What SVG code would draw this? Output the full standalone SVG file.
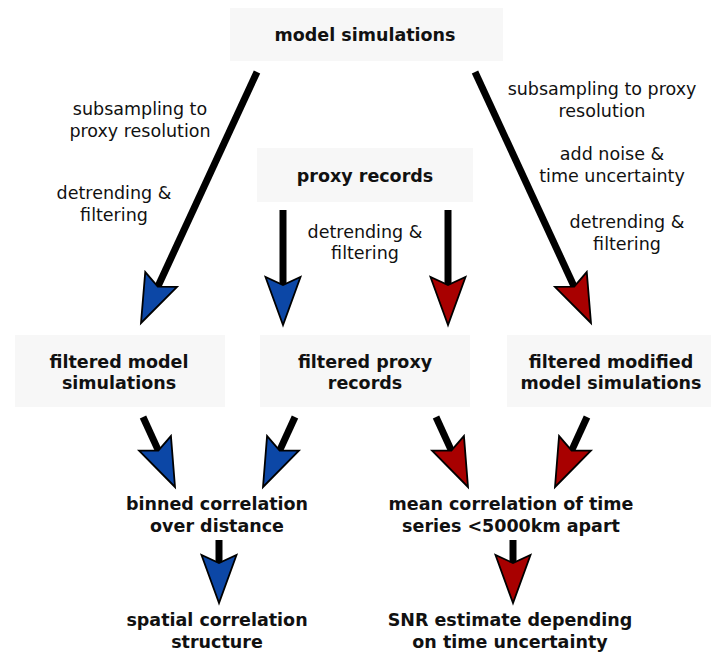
<svg xmlns="http://www.w3.org/2000/svg" xmlns:xlink="http://www.w3.org/1999/xlink" width="711" height="655" viewBox="0 0 711 655">
<style>
  text { font-family: "DejaVu Sans", "Liberation Sans", sans-serif; font-size: 17.5px; fill: #111; text-anchor: middle; }
  .b { font-weight: bold; }
  .box { fill: #f7f7f7; stroke: none; }
  .ln { stroke: #000; stroke-width: 7; fill: none; stroke-linecap: butt; }
  .blue { fill: #0c47a6; }
  .red { fill: #a80000; }
</style>
<defs>
  <path id="head" d="M0,0 L-17.5,-48 L0,-40 L17.5,-48 Z" stroke="#000" stroke-width="1.8" stroke-linejoin="miter"/>
</defs>
<rect width="711" height="655" fill="#fff"/>

<g id="model-simulations">
  <rect class="box" x="230" y="8" width="273" height="53"/>
  <text class="b" x="365" y="41">model simulations</text>
</g>
<g id="proxy-records">
  <rect class="box" x="257" y="148" width="216" height="54"/>
  <text class="b" x="365" y="182">proxy records</text>
</g>
<g id="filtered-model">
  <rect class="box" x="15" y="335" width="210" height="72"/>
  <text class="b" x="119" y="368">filtered model</text>
  <text class="b" x="119" y="389">simulations</text>
</g>
<g id="filtered-proxy">
  <rect class="box" x="260" y="335" width="210" height="72"/>
  <text class="b" x="365" y="368">filtered proxy</text>
  <text class="b" x="365" y="389">records</text>
</g>
<g id="filtered-modified">
  <rect class="box" x="507" y="335" width="204" height="72"/>
  <text class="b" x="611" y="368">filtered modified</text>
  <text class="b" x="611" y="389">model simulations</text>
</g>
<g id="binned">
  <text class="b" x="217" y="510">binned correlation</text>
  <text class="b" x="217" y="532">over distance</text>
</g>
<g id="mean-corr">
  <text class="b" x="511" y="510">mean correlation of time</text>
  <text class="b" x="511" y="532">series &lt;5000km apart</text>
</g>
<g id="spatial">
  <text class="b" x="217" y="626">spatial correlation</text>
  <text class="b" x="217" y="648">structure</text>
</g>
<g id="snr">
  <text class="b" x="510" y="626">SNR estimate depending</text>
  <text class="b" x="510" y="648">on time uncertainty</text>
</g>

<g id="connectors">
  <line class="ln" x1="257" y1="72" x2="157.8" y2="286.7"/>
  <use xlink:href="#head" class="blue" transform="translate(141,323) rotate(24.8)"/>
  <line class="ln" x1="475" y1="72" x2="574.2" y2="286.7"/>
  <use xlink:href="#head" class="red" transform="translate(591,323) rotate(-24.8)"/>
  <line class="ln" x1="283" y1="210" x2="283" y2="286"/>
  <use xlink:href="#head" class="blue" transform="translate(283,325)"/>
  <line class="ln" x1="448" y1="210" x2="448" y2="286"/>
  <use xlink:href="#head" class="red" transform="translate(448,325)"/>

  <line class="ln" x1="143" y1="417" x2="158.4" y2="450.6"/>
  <use xlink:href="#head" class="blue" transform="translate(175,487) rotate(-24.6)"/>
  <line class="ln" x1="295" y1="417" x2="279.6" y2="450.6"/>
  <use xlink:href="#head" class="blue" transform="translate(263,487) rotate(24.6)"/>
  <line class="ln" x1="436" y1="417" x2="451.4" y2="450.6"/>
  <use xlink:href="#head" class="red" transform="translate(468,487) rotate(-24.6)"/>
  <line class="ln" x1="587" y1="417" x2="571.6" y2="450.6"/>
  <use xlink:href="#head" class="red" transform="translate(555,487) rotate(24.6)"/>

  <line class="ln" x1="219" y1="540" x2="219" y2="564"/>
  <use xlink:href="#head" class="blue" transform="translate(219,603)"/>
  <line class="ln" x1="513" y1="540" x2="513" y2="564"/>
  <use xlink:href="#head" class="red" transform="translate(513,603)"/>

  <text x="140" y="115">subsampling to</text>
  <text x="140" y="137">proxy resolution</text>
  <text x="114" y="199">detrending &amp;</text>
  <text x="114" y="221">filtering</text>
  <text x="365" y="238">detrending &amp;</text>
  <text x="365" y="259">filtering</text>
  <text x="602" y="95">subsampling to proxy</text>
  <text x="602" y="117">resolution</text>
  <text x="612" y="160">add noise &amp;</text>
  <text x="612" y="182">time uncertainty</text>
  <text x="627" y="228">detrending &amp;</text>
  <text x="627" y="250">filtering</text>
</g>
</svg>
